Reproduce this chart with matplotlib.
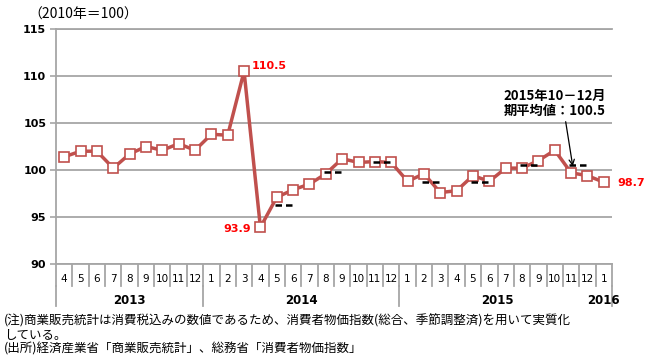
import matplotlib
matplotlib.use('Agg')
import matplotlib.pyplot as plt
import matplotlib.transforms as mtransforms

# monthly index (2010=100), Apr 2013 - Jan 2016
months = ['4', '5', '6', '7', '8', '9', '10', '11', '12',
          '1', '2', '3', '4', '5', '6', '7', '8', '9', '10', '11', '12',
          '1', '2', '3', '4', '5', '6', '7', '8', '9', '10', '11', '12',
          '1']
values = [101.4, 102.0, 102.0, 100.2, 101.7, 102.5, 102.1, 102.8, 102.1,
          103.8, 103.7, 110.5, 93.9, 97.1, 97.9, 98.5, 99.6, 101.2, 100.8, 100.9, 100.8,
          98.8, 99.6, 97.6, 97.8, 99.4, 98.8, 100.2, 100.2, 101.0, 102.1, 99.7, 99.4,
          98.7]
years = ['2013', '2014', '2015', '2016']
year_start = [0, 9, 21, 33]
year_end = [8, 20, 32, 33]

# quarterly averages (drawn over the 2nd and 3rd month of each quarter)
q_mid = [13, 16, 19, 22, 25, 28, 31]
q_avg = [96.3, 99.8, 100.8, 98.7, 98.7, 100.5, 100.5]

labels = {11: '110.5', 12: '93.9', 33: '98.7'}

line_col = '#C0504D'
grid_col = '#A6A6A6'
num_font = ['DejaVu Sans', 'Noto Sans CJK JP']
jp_font = ['Noto Sans CJK JP', 'DejaVu Sans']

fig = plt.figure(figsize=(6.5, 3.63), dpi=100)
ax = fig.add_axes([56 / 650, 1 - 264 / 363, (612 - 56) / 650, (264 - 29) / 363])

x = list(range(len(values)))
ax.plot(x, values, color=line_col, lw=2.5, marker='s', ms=7.5,
        mfc='white', mec=line_col, mew=1.2, zorder=3)

for m, a in zip(q_mid, q_avg):
    ax.plot([m - 0.1, m + 1.1], [a, a], color='black', lw=1.8,
            dashes=(2.6, 1.6), zorder=4, solid_capstyle='butt')

ax.set_xlim(-0.5, len(values) - 0.5)
ax.set_ylim(90, 115)
ax.set_yticks([90, 95, 100, 105, 110, 115])
ax.set_yticklabels(['90', '95', '100', '105', '110', '115'],
                   fontsize=8, fontweight='bold', family=num_font)
ax.set_xticks([])
ax.tick_params(axis='y', length=4, width=1.2, color=grid_col, pad=3)
ax.grid(axis='y', color=grid_col, lw=1.3)
ax.set_axisbelow(True)
ax.spines['right'].set_visible(False)
for s in ['left', 'top', 'bottom']:
    ax.spines[s].set_color(grid_col)
    ax.spines[s].set_linewidth(1.3)

# category axis below the plot
tr = mtransforms.blended_transform_factory(ax.transData, ax.transAxes)
row1 = -22 / 235
row2 = -42 / 235
for i in range(len(values) + 1):
    ax.plot([i - 0.5, i - 0.5], [0, row1], color=grid_col, lw=1.3,
            transform=tr, clip_on=False)
for i, m in enumerate(months):
    ax.text(i, -15 / 235, m, transform=tr, ha='center', va='center',
            fontsize=7.5, family=num_font)
for s, e in zip(year_start, year_end):
    if e != s:
        ax.plot([s - 0.5, s - 0.5], [row1, row2], color=grid_col, lw=1.3,
                transform=tr, clip_on=False)
ax.plot([len(values) - 0.5] * 2, [row1, row2], color=grid_col, lw=1.3,
        transform=tr, clip_on=False)
for y, s, e in zip(years, year_start, year_end):
    ax.text((s + e) / 2, -36 / 235, y, transform=tr, ha='center', va='center',
            fontsize=8.5, fontweight='bold', family=num_font)

# data labels
ax.text(11.45, 111.05, labels[11], color='red', fontsize=8, fontweight='bold',
        ha='left', va='center', family=num_font)
ax.text(11.45, 93.7, labels[12], color='red', fontsize=8, fontweight='bold',
        ha='right', va='center', family=num_font)
ax.text(33.8, 98.6, labels[33], color='red', fontsize=8, fontweight='bold',
        ha='left', va='center', family=num_font)

ax.annotate('2015年10－12月\n期平均値：100.5', xy=(31.1, 100.4), xytext=(30.0, 107.1),
            ha='center', va='center', fontsize=9.5, fontweight='bold',
            family=jp_font, linespacing=1.05,
            arrowprops=dict(arrowstyle='->', color='black', lw=0.9,
                            relpos=(0.6, 0.0), shrinkA=1, shrinkB=0))

fig.text(28 / 650, 1 - 15 / 363, '（2010年＝100）', fontsize=10,
         family=jp_font, ha='left', va='center')

notes = ['(注)商業販売統計は消費税込みの数値であるため、消費者物価指数(総合、季節調整済)を用いて実質化',
         'している。',
         '(出所)経済産業省「商業販売統計」、総務省「消費者物価指数」']
for k, t in enumerate(notes):
    fig.text(4 / 650, 1 - (321 + 14 * k) / 363, t, fontsize=9,
             family=jp_font, ha='left', va='center')

fig.savefig('out.png', dpi=100)
